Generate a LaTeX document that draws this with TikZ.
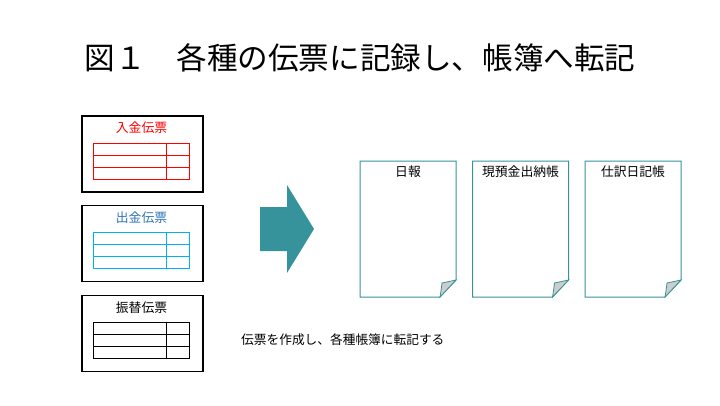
\documentclass[tikz,border=0pt]{standalone}
\usepackage{fontspec}
\setmainfont{Noto Sans CJK JP}
\definecolor{teal1}{RGB}{55,147,155}
\definecolor{cyan1}{RGB}{0,176,240}
\definecolor{blue1}{RGB}{46,117,182}
\definecolor{red1}{RGB}{255,0,0}
\definecolor{fold}{RGB}{205,205,205}
\tikzset{
  slip/.style={draw=black, line width=1.2pt, minimum width=121pt, minimum height=76pt, inner sep=0pt},
  sliptitle/.style={font=\fontsize{12.8}{14}\selectfont, inner sep=0pt},
  book/.style={draw=teal1, line width=1pt, fill=white},
  foldc/.style={draw=teal1, line width=0.8pt, fill=fold},
  booktitle/.style={font=\fontsize{12.8}{14}\selectfont, inner sep=0pt},
}
\begin{document}
\begin{tikzpicture}[x=1pt,y=-1pt]
\useasboundingbox (0,0) rectangle (720,405);
% title
\node[font=\fontsize{30.6}{34}\selectfont, inner sep=0pt] (title) at (360,58) {図１　各種の伝票に記録し、帳簿へ転記};
% slips
\node[slip] (s1) at (142.5,154) {};
\node[slip] (s2) at (142.5,243.5) {};
\node[slip] (s3) at (142.5,333.5) {};
\node[sliptitle, text=red1] (t1) at (141.5,128) {入金伝票};
\node[sliptitle, text=blue1] (t2) at (141.5,218) {出金伝票};
\node[sliptitle, text=black] (t3) at (141.5,308) {振替伝票};
% tables
\foreach \y/\c in {143/red1, 232/cyan1, 322/black}{
  \draw[\c, line width=1pt] (93,\y) rectangle (189,\y+36);
  \draw[\c, line width=1pt] (93,\y+12) -- (189,\y+12);
  \draw[\c, line width=1pt] (93,\y+24) -- (189,\y+24);
  \draw[\c, line width=1pt] (166,\y) -- (166,\y+37);
}
% big arrow
\fill[teal1] (260,207) -- (287,207) -- (287,185) -- (314,229) -- (287,273) -- (287,251) -- (260,251) -- cycle;
% books
\foreach \x/\n/\t in {360/b1/日報, 472.5/b2/現預金出納帳, 585/b3/仕訳日記帳}{
  \draw[book] (\x,161) -- (\x+96,161) -- (\x+96,280) -- (\x+80,297) -- (\x,297) -- cycle;
  \draw[foldc] (\x+80,297) .. controls (\x+81,291) .. (\x+82,283) -- (\x+96,280) -- cycle;
  \node[booktitle] (\n) at (\x+48,172) {\t};
}
% caption
\node[font=\fontsize{12.7}{14}\selectfont, inner sep=0pt, anchor=west] (cap) at (241,340) {伝票を作成し、各種帳簿に転記する};
\end{tikzpicture}
\end{document}
